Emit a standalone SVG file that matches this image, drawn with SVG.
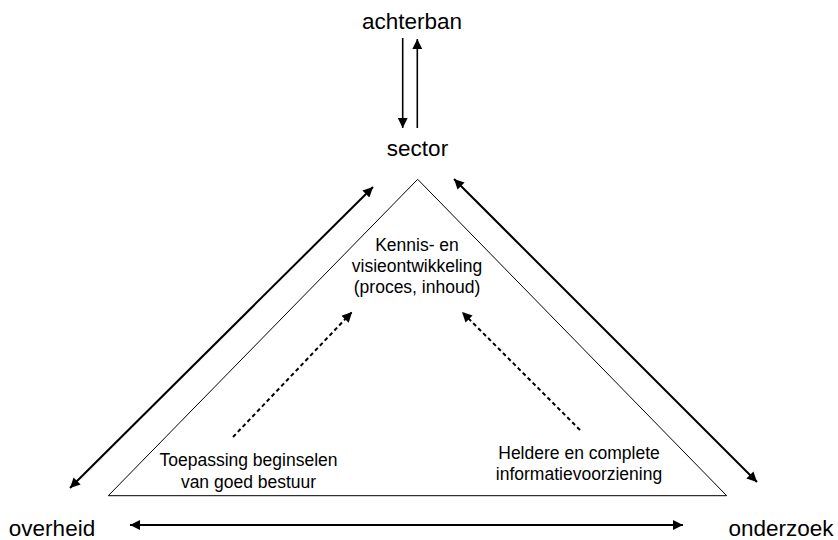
<svg xmlns="http://www.w3.org/2000/svg" width="838" height="540" viewBox="0 0 838 540">
<style>
text{font-family:"Liberation Sans",Arial,sans-serif;fill:#000}
.big{font-size:22.5px}
.small{font-size:17.5px}
.arr{stroke:#000;stroke-width:2;fill:none}
.thin{stroke:#000;stroke-width:1.6;fill:none}
.dash{stroke:#000;stroke-width:2;fill:none;stroke-dasharray:4 3}
</style>
<defs>
<marker id="ah" viewBox="0 0 10 10" refX="10" refY="5" markerWidth="11" markerHeight="10" markerUnits="userSpaceOnUse" orient="auto-start-reverse">
<path d="M0,0 L10,5 L0,10 z" fill="#000"/>
</marker>
</defs>
<g id="achterban"><text class="big" x="412" y="29" text-anchor="middle">achterban</text></g>
<g id="sector"><text class="big" x="417.5" y="156" text-anchor="middle">sector</text></g>
<g id="overheid"><text class="big" x="52" y="536" text-anchor="middle">overheid</text></g>
<g id="onderzoek"><text class="big" x="781" y="536" text-anchor="middle">onderzoek</text></g>
<g id="triangle"><polygon points="417.7,179.3 726.7,495.7 108.3,495.7" fill="none" stroke="#000" stroke-width="1"/></g>
<g id="kennis"><text class="small" text-anchor="middle"><tspan x="417" y="251">Kennis- en</tspan><tspan x="417" y="272">visieontwikkeling</tspan><tspan x="417" y="293">(proces, inhoud)</tspan></text></g>
<g id="toepassing"><text class="small" text-anchor="middle"><tspan x="248.5" y="466">Toepassing beginselen</tspan><tspan x="248.5" y="488">van goed bestuur</tspan></text></g>
<g id="heldere"><text class="small" text-anchor="middle"><tspan x="579" y="459">Heldere en complete</tspan><tspan x="579" y="480">informatievoorziening</tspan></text></g>
<g id="connectors">
<line class="thin" x1="402.7" y1="38" x2="402.7" y2="128" marker-end="url(#ah)"/>
<line class="thin" x1="417.3" y1="128" x2="417.3" y2="39" marker-end="url(#ah)"/>
<line class="arr" x1="373" y1="187" x2="70" y2="488" marker-start="url(#ah)" marker-end="url(#ah)"/>
<line class="arr" x1="454" y1="179" x2="757" y2="482" marker-start="url(#ah)" marker-end="url(#ah)"/>
<line class="arr" x1="130" y1="525" x2="683" y2="525" marker-start="url(#ah)" marker-end="url(#ah)"/>
<line class="dash" x1="233" y1="437" x2="352" y2="312" marker-end="url(#ah)"/>
<line class="dash" x1="580" y1="430" x2="462" y2="312" marker-end="url(#ah)"/>
</g>
</svg>
